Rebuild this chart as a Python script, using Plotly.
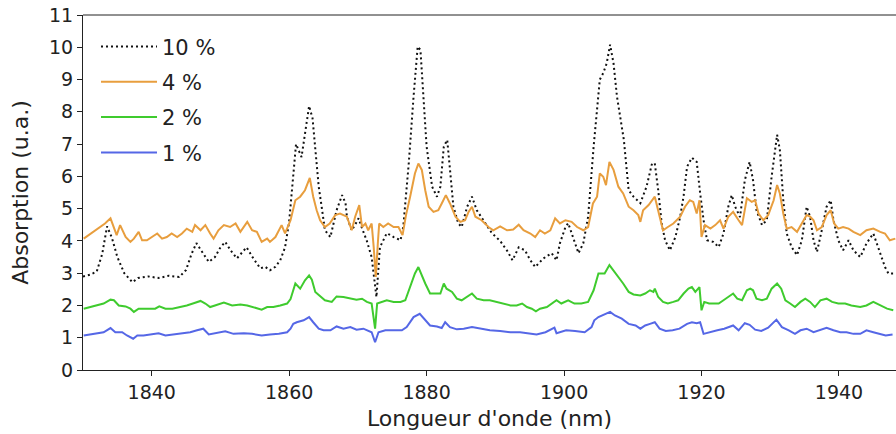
import plotly.graph_objects as go

# ---- data ----
wl_10 = [1830.0, 1831.0, 1832.0, 1832.8, 1833.5, 1834.2, 1835.0, 1836.0, 1837.2, 1838.0,
         1839.5, 1841.0, 1842.5, 1844.0, 1845.0, 1845.8, 1846.5, 1847.2, 1848.3, 1849.2,
         1850.0, 1850.7, 1851.5, 1852.4, 1853.2, 1853.8, 1854.8, 1855.8, 1856.5, 1857.2,
         1858.0, 1858.7, 1859.4, 1860.0, 1860.5, 1861.0, 1861.8, 1862.4, 1862.9, 1863.4,
         1863.8, 1864.3, 1864.8, 1865.2, 1866.0, 1866.9, 1867.7, 1868.2, 1868.4, 1869.1,
         1869.6, 1870.1, 1870.5, 1871.3, 1872.0, 1872.5, 1872.7, 1873.2, 1874.2, 1875.2,
         1876.2, 1876.6, 1877.4, 1878.1, 1878.7, 1879.1, 1879.5, 1880.0, 1880.8, 1881.5,
         1882.0, 1882.5, 1883.0, 1883.4, 1883.9, 1884.6, 1885.1, 1885.9, 1886.6, 1887.3,
         1888.3, 1889.5, 1890.7, 1891.7, 1892.5, 1893.4, 1894.3, 1895.1, 1895.8, 1897.0,
         1898.2, 1898.9, 1899.4, 1900.2, 1900.6, 1901.1, 1902.1, 1902.8, 1903.5, 1904.3,
         1904.8, 1905.2, 1905.7, 1906.2, 1906.7, 1907.2, 1907.7, 1908.2, 1908.7, 1909.4,
         1910.1, 1911.1, 1912.0, 1912.8, 1913.2, 1913.7, 1914.2, 1914.7, 1915.4, 1916.2,
         1916.9, 1917.4, 1917.9, 1918.6, 1919.3, 1919.8, 1920.3, 1920.8, 1921.7, 1922.5,
         1923.2, 1923.9, 1924.4, 1924.9, 1925.6, 1926.3, 1927.0, 1927.5, 1928.0, 1928.8,
         1929.5, 1930.2, 1931.0, 1931.4, 1931.9, 1932.4, 1933.1, 1933.9, 1934.6, 1935.3,
         1935.8, 1936.3, 1936.8, 1937.5, 1938.2, 1938.8, 1939.2, 1939.9, 1940.6, 1941.4,
         1942.1, 1943.1, 1944.0, 1945.0, 1946.0, 1946.7, 1947.2, 1948.3]
abs_10 = [2.90, 2.95, 3.05, 3.60, 4.45, 4.10, 3.50, 3.00, 2.72, 2.85,
          2.90, 2.85, 2.92, 2.88, 3.10, 3.60, 3.93, 3.70, 3.35, 3.50,
          3.80, 3.97, 3.70, 3.46, 3.65, 3.80, 3.45, 3.15, 3.20, 3.09,
          3.20, 3.40, 3.80, 4.60, 5.80, 7.00, 6.60, 7.40, 8.18, 7.80,
          6.92, 5.68, 4.95, 4.33, 4.12, 4.95, 5.42, 5.17, 4.75, 4.33,
          4.50, 4.70, 4.45, 4.00, 3.50, 2.68, 2.26, 3.80, 4.24, 4.12,
          4.02, 4.43, 6.40, 8.47, 10.02, 9.92, 8.47, 6.92, 5.68, 5.37,
          5.68, 6.92, 7.13, 6.20, 5.06, 4.55, 4.43, 5.06, 5.37, 4.95,
          4.64, 4.24, 4.00, 3.70, 3.40, 3.80, 3.71, 3.40, 3.19, 3.46,
          3.62, 3.40, 3.93, 4.43, 4.55, 4.24, 3.62, 3.93, 4.75, 6.92,
          7.96, 9.00, 9.20, 9.50, 10.08, 9.50, 8.47, 7.75, 7.13, 5.57,
          5.37, 5.17, 5.68, 6.40, 6.40, 5.57, 4.55, 4.02, 3.71, 4.12,
          4.75, 5.40, 6.30, 6.58, 6.45, 5.48, 4.64, 4.02, 3.97, 3.81,
          4.23, 5.06, 5.42, 5.06, 4.74, 5.88, 6.45, 5.88, 4.95, 4.49,
          4.64, 5.99, 7.29, 6.82, 5.26, 4.23, 3.81, 3.56, 4.02, 5.06,
          4.75, 4.02, 3.66, 4.33, 5.06, 5.26, 4.64, 4.02, 3.71, 4.02,
          3.71, 3.50, 3.92, 4.23, 3.61, 3.19, 2.99, 2.99]

wl_4 = [1830.1, 1831.1, 1831.8, 1832.5, 1833.2, 1834.0, 1834.5, 1834.9, 1835.4, 1836.2,
        1836.9, 1837.4, 1838.1, 1838.6, 1839.3, 1840.0, 1840.8, 1841.5, 1842.2, 1842.9,
        1843.7, 1844.4, 1845.1, 1845.9, 1846.3, 1847.1, 1847.8, 1848.5, 1849.0, 1849.7,
        1850.5, 1851.4, 1852.2, 1852.9, 1853.9, 1854.6, 1855.3, 1856.0, 1856.8, 1857.2,
        1858.0, 1858.9, 1859.4, 1860.2, 1860.9, 1861.6, 1862.3, 1863.0, 1863.5, 1864.0,
        1864.5, 1865.2, 1865.9, 1866.7, 1867.4, 1868.4, 1869.1, 1869.6, 1870.2, 1870.6,
        1871.1, 1871.5, 1872.0, 1872.3, 1872.6, 1872.9, 1873.1, 1873.7, 1874.4, 1875.2,
        1875.9, 1876.5, 1877.0, 1877.6, 1878.3, 1878.8, 1879.3, 1879.8, 1880.3, 1881.0,
        1881.7, 1882.2, 1882.8, 1883.4, 1884.2, 1884.9, 1885.6, 1886.1, 1886.6, 1887.1,
        1888.0, 1889.0, 1889.7, 1890.7, 1891.7, 1892.6, 1893.4, 1894.1, 1895.1, 1895.8,
        1896.5, 1897.2, 1898.0, 1898.7, 1899.4, 1900.2, 1901.1, 1901.9, 1902.8, 1903.5,
        1904.2, 1904.8, 1905.2, 1905.7, 1906.1, 1906.6, 1907.2, 1907.9, 1908.6, 1909.4,
        1910.1, 1910.8, 1911.1, 1911.5, 1912.3, 1913.2, 1913.9, 1914.4, 1915.1, 1915.9,
        1916.9, 1917.6, 1918.3, 1918.8, 1919.3, 1919.7, 1920.0, 1920.5, 1921.3, 1922.0,
        1922.7, 1923.2, 1923.9, 1924.6, 1925.4, 1925.9, 1926.6, 1927.3, 1927.8, 1928.3,
        1929.0, 1929.7, 1930.5, 1931.0, 1931.4, 1931.9, 1932.4, 1933.1, 1933.9, 1934.6,
        1935.3, 1935.8, 1936.3, 1936.8, 1937.5, 1938.2, 1938.8, 1939.3, 1939.9, 1940.6,
        1941.4, 1942.1, 1943.1, 1944.0, 1945.0, 1946.0, 1946.7, 1947.4, 1948.2]
abs_4 = [4.07, 4.23, 4.33, 4.43, 4.54, 4.70, 4.43, 4.18, 4.49, 4.12,
         3.97, 4.07, 4.28, 4.02, 4.02, 4.12, 4.23, 4.07, 4.12, 4.23,
         4.12, 4.23, 4.38, 4.28, 4.49, 4.33, 4.49, 4.23, 4.07, 4.33,
         4.49, 4.43, 4.54, 4.28, 4.59, 4.33, 4.28, 3.97, 4.07, 3.97,
         4.12, 4.49, 4.23, 4.64, 5.26, 5.37, 5.57, 5.95, 5.37, 4.95,
         4.64, 4.43, 4.54, 4.80, 4.85, 4.75, 4.33, 4.75, 5.11, 4.43,
         4.54, 4.33, 4.54, 3.81, 2.88, 3.92, 4.54, 4.43, 4.54, 4.43,
         4.43, 4.18, 4.80, 5.37, 6.09, 6.40, 6.20, 5.57, 5.06, 4.90,
         4.95, 5.16, 5.42, 5.16, 4.75, 4.59, 4.64, 4.90, 5.06, 4.75,
         4.64, 4.43, 4.33, 4.45, 4.33, 4.35, 4.50, 4.33, 4.23, 4.12,
         4.33, 4.23, 4.33, 4.70, 4.54, 4.64, 4.59, 4.43, 4.33, 4.43,
         5.16, 5.37, 6.09, 5.99, 5.73, 6.45, 6.20, 5.68, 5.47, 5.06,
         4.95, 4.80, 4.59, 4.95, 5.11, 5.37, 4.75, 4.33, 4.43, 4.54,
         4.75, 5.06, 5.26, 5.21, 4.85, 5.26, 4.12, 4.49, 4.38, 4.49,
         4.64, 4.38, 4.75, 4.90, 4.64, 4.49, 5.32, 5.21, 5.26, 4.85,
         4.64, 4.80, 5.26, 5.73, 5.47, 4.85, 4.38, 4.43, 4.28, 4.54,
         4.80, 4.75, 4.64, 4.33, 4.43, 4.80, 4.95, 4.54, 4.38, 4.43,
         4.38, 4.28, 4.18, 4.33, 4.38, 4.28, 4.23, 4.02, 4.07]

wl_2 = [1830.1, 1831.1, 1832.0, 1833.0, 1834.0, 1834.5, 1835.2, 1836.2, 1836.9, 1837.4,
        1838.1, 1839.3, 1840.5, 1841.1, 1842.0, 1843.0, 1844.2, 1845.1, 1846.1, 1847.1,
        1847.8, 1848.5, 1849.2, 1850.5, 1851.7, 1852.9, 1853.9, 1854.8, 1856.0, 1856.8,
        1857.7, 1858.7, 1859.7, 1860.2, 1860.9, 1861.6, 1862.3, 1862.9, 1863.3, 1863.8,
        1864.5, 1865.2, 1866.2, 1866.9, 1867.9, 1868.9, 1869.8, 1870.6, 1871.3, 1872.0,
        1872.5, 1872.8, 1873.5, 1874.2, 1875.2, 1876.2, 1876.9, 1877.6, 1878.3, 1878.8,
        1879.3, 1879.8, 1880.5, 1881.3, 1882.0, 1882.5, 1882.9, 1883.7, 1884.4, 1885.1,
        1885.9, 1886.6, 1887.3, 1888.3, 1889.2, 1890.2, 1891.2, 1892.2, 1893.1, 1893.9,
        1894.6, 1895.3, 1895.9, 1896.5, 1897.5, 1898.2, 1898.9, 1899.6, 1900.6, 1901.5,
        1902.5, 1903.5, 1904.3, 1905.0, 1905.9, 1906.6, 1907.2, 1907.9, 1908.6, 1909.4,
        1910.1, 1911.1, 1911.8, 1912.5, 1913.0, 1913.2, 1913.7, 1914.4, 1915.1, 1915.9,
        1916.6, 1917.4, 1918.1, 1918.6, 1919.1, 1919.7, 1920.0, 1920.4, 1921.1, 1921.8,
        1922.5, 1923.2, 1923.9, 1924.6, 1925.2, 1925.9, 1926.6, 1927.1, 1927.5, 1928.0,
        1928.8, 1929.5, 1930.2, 1931.0, 1931.6, 1932.2, 1932.9, 1933.6, 1934.4, 1935.1,
        1935.8, 1936.5, 1937.3, 1938.2, 1939.0, 1939.9, 1940.9, 1941.8, 1943.1, 1944.0,
        1945.0, 1946.0, 1947.0, 1947.9]
abs_2 = [1.90, 1.95, 2.00, 2.06, 2.18, 2.16, 2.00, 1.97, 1.90, 1.80,
         1.90, 1.90, 1.90, 1.97, 1.90, 1.90, 1.95, 2.00, 2.07, 2.14,
         2.06, 1.95, 2.00, 2.09, 2.00, 2.03, 2.00, 1.95, 1.87, 1.95,
         1.95, 2.00, 2.06, 2.20, 2.68, 2.52, 2.78, 2.93, 2.80, 2.42,
         2.28, 2.16, 2.11, 2.28, 2.26, 2.21, 2.18, 2.21, 2.11, 2.06,
         1.28, 2.06, 2.11, 2.16, 2.11, 2.11, 2.16, 2.57, 2.99, 3.19,
         2.93, 2.68, 2.37, 2.37, 2.37, 2.68, 2.52, 2.42, 2.21, 2.16,
         2.26, 2.37, 2.21, 2.16, 2.16, 2.11, 2.06, 2.00, 2.00, 2.06,
         1.95, 1.90, 1.82, 1.90, 1.95, 2.06, 2.16, 2.06, 2.16, 2.06,
         2.06, 2.11, 2.47, 2.99, 2.99, 3.25, 3.09, 2.88, 2.68, 2.42,
         2.34, 2.31, 2.37, 2.47, 2.42, 2.52, 2.26, 2.11, 2.06, 2.11,
         2.16, 2.37, 2.52, 2.57, 2.42, 2.57, 1.85, 2.11, 2.06, 2.06,
         2.06, 2.16, 2.26, 2.37, 2.21, 2.16, 2.47, 2.52, 2.47, 2.21,
         2.16, 2.21, 2.52, 2.68, 2.52, 2.16, 2.06, 1.95, 2.11, 2.21,
         2.11, 1.95, 2.16, 2.21, 2.11, 2.06, 2.06, 2.00, 1.95, 2.00,
         2.11, 2.00, 1.90, 1.85]

wl_1 = [1830.1, 1831.5, 1833.0, 1834.0, 1834.7, 1835.7, 1836.4, 1837.3, 1837.9, 1838.8,
        1839.8, 1841.0, 1842.0, 1843.2, 1844.4, 1845.6, 1846.6, 1847.5, 1848.3, 1849.5,
        1850.7, 1851.9, 1853.4, 1854.6, 1856.0, 1857.2, 1858.5, 1859.7, 1860.2, 1860.6,
        1861.1, 1862.1, 1862.9, 1863.5, 1864.3, 1865.0, 1866.0, 1866.9, 1867.9, 1868.9,
        1869.8, 1870.8, 1872.0, 1872.5, 1873.0, 1874.0, 1875.2, 1876.4, 1877.1, 1878.1,
        1879.0, 1879.8, 1880.5, 1881.5, 1882.2, 1882.7, 1883.4, 1884.4, 1885.4, 1886.6,
        1887.9, 1889.2, 1890.7, 1892.2, 1893.6, 1895.1, 1896.0, 1897.3, 1898.6, 1898.9,
        1900.3, 1901.6, 1903.0, 1904.0, 1904.4, 1905.0, 1905.5, 1906.7, 1907.4, 1908.4,
        1909.4, 1910.4, 1911.1, 1911.8, 1912.5, 1913.2, 1913.9, 1914.8, 1915.8, 1916.8,
        1917.9, 1918.6, 1919.3, 1919.8, 1920.3, 1921.1, 1922.3, 1923.3, 1924.6, 1925.4,
        1926.3, 1927.0, 1927.8, 1928.7, 1929.7, 1930.9, 1931.7, 1932.7, 1933.6, 1934.4,
        1935.3, 1936.3, 1937.2, 1938.2, 1939.2, 1940.2, 1941.1, 1942.1, 1943.1, 1944.0,
        1945.0, 1946.0, 1946.8, 1947.8]
abs_1 = [1.07, 1.12, 1.17, 1.30, 1.17, 1.17, 1.07, 0.97, 1.07, 1.07,
         1.10, 1.14, 1.07, 1.10, 1.12, 1.17, 1.23, 1.28, 1.10, 1.14,
         1.20, 1.12, 1.14, 1.12, 1.07, 1.10, 1.12, 1.17, 1.28, 1.43,
         1.48, 1.54, 1.64, 1.48, 1.28, 1.23, 1.23, 1.35, 1.28, 1.33,
         1.25, 1.28, 1.17, 0.86, 1.17, 1.23, 1.23, 1.23, 1.33, 1.64,
         1.74, 1.54, 1.38, 1.35, 1.30, 1.48, 1.33, 1.26, 1.28, 1.33,
         1.28, 1.23, 1.21, 1.17, 1.17, 1.12, 1.10, 1.17, 1.31, 1.14,
         1.23, 1.21, 1.17, 1.33, 1.54, 1.64, 1.69, 1.80, 1.69, 1.59,
         1.43, 1.38, 1.28, 1.38, 1.43, 1.48, 1.28, 1.21, 1.23, 1.28,
         1.43, 1.48, 1.45, 1.48, 1.12, 1.17, 1.23, 1.28, 1.38, 1.23,
         1.45, 1.40, 1.25, 1.21, 1.31, 1.56, 1.33, 1.23, 1.12, 1.23,
         1.28, 1.17, 1.23, 1.31, 1.23, 1.17, 1.17, 1.12, 1.12, 1.23,
         1.17, 1.12, 1.07, 1.10]

series_names = ["10 %", "4 %", "2 %", "1 %"]
x_ticks = [1840, 1860, 1880, 1900, 1920, 1940]
y_ticks = list(range(0, 12))

FONT = "DejaVu Sans"
AX = "#222222"

fig = go.Figure()
fig.add_trace(go.Scatter(x=wl_10, y=abs_10, mode="lines", name=series_names[0],
                         legendgroup="a",
                         line=dict(color="#111111", width=2, dash="2px,3px")))
fig.add_trace(go.Scatter(x=wl_4, y=abs_4, mode="lines", name=series_names[1],
                         legendgroup="b",
                         line=dict(color="#E89E3E", width=2)))
fig.add_trace(go.Scatter(x=wl_2, y=abs_2, mode="lines", name=series_names[2],
                         legendgroup="c",
                         line=dict(color="#3FCB2E", width=2)))
fig.add_trace(go.Scatter(x=wl_1, y=abs_1, mode="lines", name=series_names[3],
                         legendgroup="d",
                         line=dict(color="#5567E6", width=2)))

fig.update_layout(
    width=896, height=434,
    margin=dict(l=83, r=0, t=15, b=64, pad=0),
    paper_bgcolor="white", plot_bgcolor="white",
    font=dict(family=FONT, color=AX, size=19),
    showlegend=True,
    legend=dict(x=0.016, y=0.968, xanchor="left", yanchor="top",
                bgcolor="rgba(0,0,0,0)", font=dict(size=21, family=FONT),
                tracegroupgap=5, itemwidth=56, traceorder="grouped"),
    xaxis=dict(range=[1830, 1948.3], tickvals=x_ticks, showgrid=False, zeroline=False,
               showline=True, linecolor=AX, linewidth=1, automargin=False,
               ticks="outside", ticklen=5, tickwidth=1, tickcolor=AX,
               tickfont=dict(size=19, family=FONT),
               title=dict(text="Longueur d'onde (nm)", font=dict(size=22, family=FONT),
                          standoff=8)),
    yaxis=dict(range=[0, 11], tickvals=y_ticks, showgrid=False, zeroline=False,
               showline=True, linecolor=AX, linewidth=1, automargin=False,
               ticks="outside", ticklen=5, tickwidth=1, tickcolor=AX,
               tickfont=dict(size=19, family=FONT),
               title=dict(text="Absorption (u.a.)", font=dict(size=22, family=FONT),
                          standoff=14)),
    shapes=[dict(type="line", xref="paper", yref="paper", x0=0, x1=1, y0=1, y1=1,
                 line=dict(color=AX, width=1))],
)

fig.write_html("out.html",
               config={"displayModeBar": False},
               post_script="document.body.style.margin='0px';")
